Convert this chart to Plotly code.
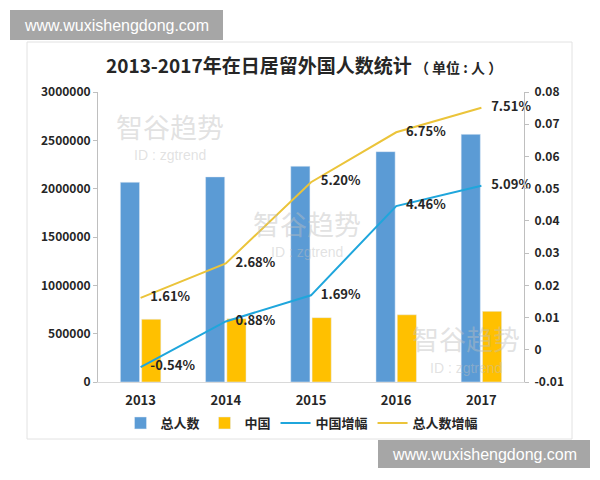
import plotly.graph_objects as go

years = ["2013", "2014", "2015", "2016", "2017"]
total_people = [2066445, 2121831, 2232189, 2382822, 2561848]
china_people = [649078, 654777, 665847, 695522, 730890]
china_growth = [-0.0054, 0.0088, 0.0169, 0.0446, 0.0509]
total_growth = [0.0161, 0.0268, 0.0520, 0.0675, 0.0751]
china_growth_labels = ["-0.54%", "0.88%", "1.69%", "4.46%", "5.09%"]
total_growth_labels = ["1.61%", "2.68%", "5.20%", "6.75%", "7.51%"]
right_tick_vals = [-0.01, 0, 0.01, 0.02, 0.03, 0.04, 0.05, 0.06, 0.07, 0.08]
right_tick_text = ["-0.01", "0", "0.01", "0.02", "0.03", "0.04", "0.05", "0.06", "0.07", "0.08"]

FONT = "Noto Sans CJK SC"
TXT = "#262626"

fig = go.Figure()
fig.add_trace(go.Bar(x=years, y=total_people, name="总人数", marker_color="#5B9BD5"))
fig.add_trace(go.Bar(x=years, y=china_people, name="中国", marker_color="#FFC000"))
fig.add_trace(go.Scatter(x=years, y=china_growth, name="中国增幅", yaxis="y2",
                         mode="lines+markers+text", line=dict(color="#1FA6DC", width=2),
                         marker=dict(size=14, color="rgba(0,0,0,0)"),
                         text=china_growth_labels, textposition="middle right",
                         textfont=dict(family=FONT, size=13, color=TXT, weight="bold"),
                         cliponaxis=False))
fig.add_trace(go.Scatter(x=years, y=total_growth, name="总人数增幅", yaxis="y2",
                         mode="lines+markers+text", line=dict(color="#EBC43A", width=2),
                         marker=dict(size=14, color="rgba(0,0,0,0)"),
                         text=total_growth_labels, textposition="middle right",
                         textfont=dict(family=FONT, size=13, color=TXT, weight="bold"),
                         cliponaxis=False))

# paper coordinate helpers (plot area: x 98..524 px, y 92..382 px)
def px(x):
    return (x - 98) / 426.0

def py(y):
    return (382 - y) / 290.0

shapes = [
    dict(type="rect", xref="paper", yref="paper", x0=px(27), x1=px(572), y0=py(439), y1=py(42),
         line=dict(color="#E2E2E2", width=1), fillcolor="rgba(0,0,0,0)", layer="below"),
    dict(type="rect", xref="paper", yref="paper", x0=px(10), x1=px(223), y0=py(40), y1=py(10),
         line=dict(width=0), fillcolor="#A6A6A6", layer="above"),
    dict(type="rect", xref="paper", yref="paper", x0=px(378), x1=px(590), y0=py(468), y1=py(440),
         line=dict(width=0), fillcolor="#A6A6A6", layer="above"),
]

annotations = [
    dict(xref="paper", yref="paper", x=px(304), y=py(65), xanchor="center", yanchor="middle",
         showarrow=False,
         text="<b>2013-2017年在日居留外国人数统计</b><b><span style='font-size:14px'> （ 单位 : 人 ）</span></b>",
         font=dict(family=FONT, size=19, color=TXT)),
    dict(xref="paper", yref="paper", x=px(116.5), y=py(25), xanchor="center", yanchor="middle",
         showarrow=False, text="www.wuxishengdong.com",
         font=dict(family="Liberation Sans", size=16, color="white")),
    dict(xref="paper", yref="paper", x=px(484), y=py(454), xanchor="center", yanchor="middle",
         showarrow=False, text="www.wuxishengdong.com",
         font=dict(family="Liberation Sans", size=16, color="white")),
]

wm_color = "rgba(190,190,190,0.45)"
for (cx, cy1, cy2) in [(170, 126, 155), (307, 223, 252), (466, 338, 368)]:
    annotations.append(dict(xref="paper", yref="paper", x=px(cx), y=py(cy1), xanchor="center",
                            yanchor="middle", showarrow=False, text="智谷趋势",
                            font=dict(family=FONT, size=27, color=wm_color)))
    annotations.append(dict(xref="paper", yref="paper", x=px(cx), y=py(cy2), xanchor="center",
                            yanchor="middle", showarrow=False, text="ID : zgtrend",
                            font=dict(family="Liberation Sans", size=14, color=wm_color)))

fig.update_layout(
    width=600, height=480,
    margin=dict(l=98, r=76, t=92, b=98),
    paper_bgcolor="white", plot_bgcolor="white",
    barmode="group", bargap=0.5, bargroupgap=0.1,
    font=dict(family=FONT, color=TXT),
    xaxis=dict(type="category", showline=True, linecolor="#D9D9D9", linewidth=1,
               ticks="", showgrid=False, ticklabelstandoff=6,
               tickfont=dict(family=FONT, size=13, color=TXT, weight="bold")),
    yaxis=dict(range=[0, 3000000], dtick=500000, tickformat="d", showgrid=False,
               zeroline=False, showline=True, linecolor="#BFBFBF", linewidth=1,
               ticks="outside", ticklen=4, tickcolor="#BFBFBF",
               tickfont=dict(family=FONT, size=12, color=TXT, weight="bold")),
    yaxis2=dict(range=[-0.01, 0.08], overlaying="y", side="right", showgrid=False,
                zeroline=False, tickvals=right_tick_vals, ticktext=right_tick_text,
                showline=True, linecolor="#BFBFBF", linewidth=1,
                ticks="outside", ticklen=4, tickcolor="#BFBFBF", ticklabelstandoff=3,
                tickfont=dict(family=FONT, size=12, color=TXT, weight="bold")),
    legend=dict(orientation="h", x=px(302), y=py(423), xanchor="center", yanchor="middle",
                font=dict(family=FONT, size=13, color=TXT, weight="bold"),
                itemwidth=30, bgcolor="rgba(0,0,0,0)"),
    shapes=shapes,
    annotations=annotations,
)

fig.write_html("out.html")
